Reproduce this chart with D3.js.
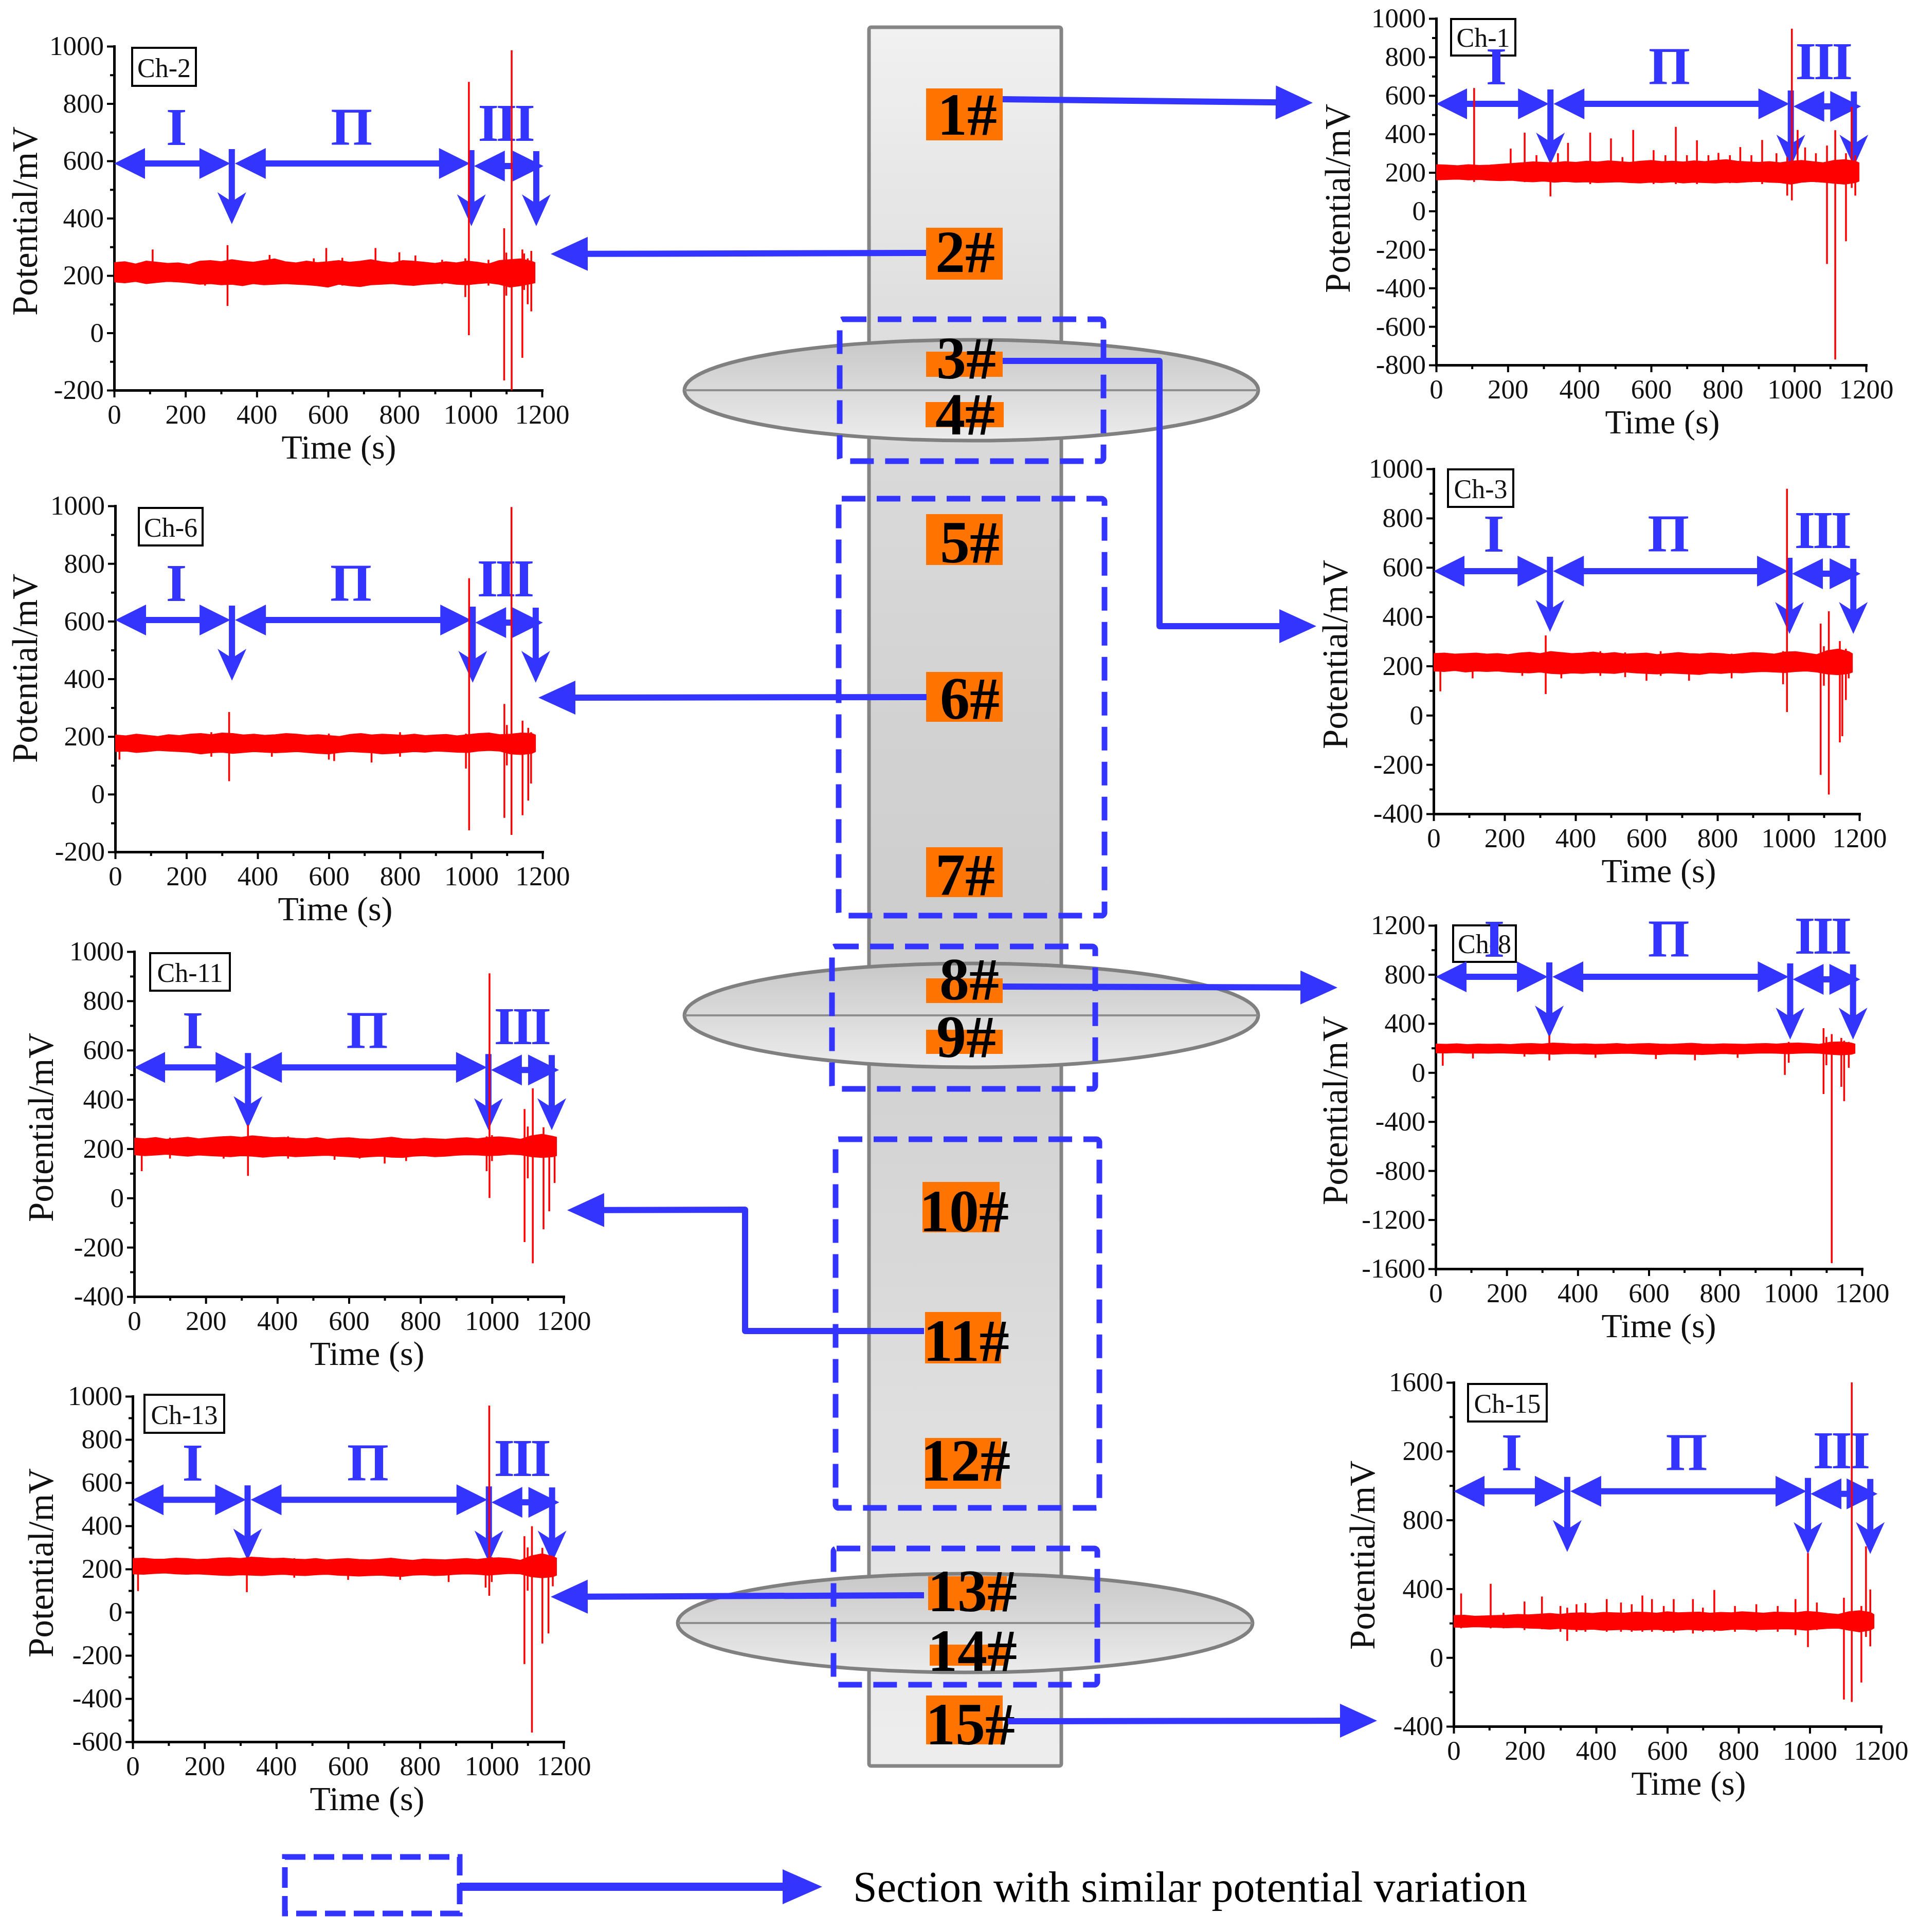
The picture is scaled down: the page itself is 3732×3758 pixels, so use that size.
<!DOCTYPE html>
<html><head><meta charset="utf-8">
<script src="https://cdn.jsdelivr.net/npm/d3@7"></script>
<style>body{margin:0;background:#fff} svg{display:block}</style>
</head><body>
<svg id="c" width="3732" height="3758"></svg>
<script>
// ---------------- DATA ----------------
const bandTime = [0,30,60,90,120,150,180,210,240,270,300,330,360,390,420,450,480,510,540,570,600,630,660,690,720,750,780,810,840,870,900,930,960,990,1020,1050,1080,1110,1140,1170,1180];
const xTicks = [0,200,400,600,800,1000,1200];
const xTickLabels = ["0","200","400","600","800","1000","1200"];
const xMinorTicks = [100,300,500,700,900,1100];

const ch2Hi = [245,248,240,250,246,242,244,238,250,252,248,255,250,246,252,258,248,244,250,245,248,252,246,250,255,248,244,252,250,246,242,248,244,250,246,240,252,255,258,250,245];
const ch2Lo = [178,175,180,172,176,180,178,175,170,172,168,170,165,172,168,170,172,170,168,165,160,170,165,162,168,170,172,168,166,170,172,175,170,168,172,175,170,160,165,172,175];
const ch2Spikes = [[108,291,200],[255,250,165],[318,306,94],[436,272,190],[560,260,180],[595,296,160],[640,262,165],[733,296,185],[800,281,175],[845,270,170],[920,255,170],[985,260,125],[995,876,-8],[1050,255,165],[1094,365,-166],[1100,280,130],[1115,986,-200],[1145,291,-87],[1150,277,150],[1160,260,100],[1170,286,75]];
const ch2YTicks = [-200,0,200,400,600,800,1000];
const ch2YLabels = ["-200","0","200","400","600","800","1000"];

const ch6Hi = [205,202,208,204,200,206,203,208,210,206,212,210,205,208,204,206,210,208,204,206,203,200,207,210,205,208,206,204,208,203,205,207,202,206,210,212,206,208,212,210,205];
const ch6Lo = [148,150,145,148,152,150,148,146,140,144,146,142,145,148,146,144,146,148,145,142,140,145,148,146,144,140,142,145,148,146,150,148,146,145,150,152,150,140,138,142,148];
const ch6Spikes = [[12,200,120],[270,215,130],[320,285,45],[440,205,130],[600,210,120],[615,200,115],[720,205,110],[800,215,130],[985,210,89],[994,749,-125],[1093,313,-82],[1100,240,100],[1113,996,-141],[1144,255,-73],[1160,230,-22],[1168,215,37]];
const ch6YTicks = [-200,0,200,400,600,800,1000];
const ch6YLabels = ["-200","0","200","400","600","800","1000"];

const ch11Hi = [243,240,245,238,242,246,240,244,248,250,246,252,248,244,246,242,240,245,238,242,244,240,238,242,246,240,238,242,240,238,242,244,240,246,248,244,238,252,258,250,246];
const ch11Lo = [176,172,175,178,174,170,175,172,170,168,172,170,166,170,172,168,170,172,174,170,168,165,168,170,166,165,170,172,168,170,174,176,175,172,174,178,176,168,165,168,172];
const ch11Spikes = [[21,240,109],[100,245,160],[250,250,160],[318,297,90],[430,250,160],[560,240,155],[630,235,160],[700,240,140],[760,235,150],[985,250,109],[993,912,0],[1000,255,150],[1091,361,-179],[1100,290,80],[1114,445,-265],[1144,287,-127],[1160,250,-54],[1175,245,61]];
const ch11YTicks = [-400,-200,0,200,400,600,800,1000];
const ch11YLabels = ["-400","-200","0","200","400","600","800","1000"];

const ch13Hi = [248,250,245,246,250,248,244,246,250,252,248,255,252,248,250,246,244,248,242,246,248,244,242,246,250,244,240,246,244,242,246,248,244,250,252,248,240,260,270,258,250];
const ch13Lo = [178,176,180,182,178,176,178,175,172,170,174,172,170,174,176,172,170,174,176,172,170,168,170,172,168,166,172,174,170,172,176,178,176,172,176,180,178,165,160,165,172];
const ch13Spikes = [[15,245,98],[318,255,93],[450,250,160],[600,245,150],[745,240,150],[880,240,140],[983,250,114],[993,957,76],[1000,255,140],[1091,352,-240],[1100,300,100],[1112,398,-557],[1141,298,-145],[1158,260,-98],[1170,255,120]];
const ch13YTicks = [-600,-400,-200,0,200,400,600,800,1000];
const ch13YLabels = ["-600","-400","-200","0","200","400","600","800","1000"];

const ch1Hi = [240,238,235,240,236,238,242,246,250,255,252,250,256,252,258,254,260,256,252,258,262,256,258,254,260,256,262,266,258,255,252,256,250,258,262,256,250,262,266,258,250];
const ch1Lo = [162,164,166,162,164,160,158,160,155,152,156,150,154,150,152,148,150,152,148,146,150,148,152,146,150,148,146,150,148,152,154,150,148,140,150,154,150,145,140,148,155];
const ch1Spikes = [[106,639,151],[208,324,170],[247,407,150],[280,290,160],[319,260,76],[340,300,150],[368,354,155],[430,407,140],[488,377,150],[520,280,150],[550,421,160],[607,316,140],[640,290,150],[669,437,140],[700,290,150],[728,367,140],[760,290,150],[788,302,150],[820,290,145],[849,332,150],[880,290,150],[910,369,140],[950,300,150],[980,280,80],[993,947,55],[1009,421,160],[1030,330,150],[1060,300,150],[1091,340,-275],[1114,420,-771],[1144,300,-157],[1160,541,120],[1170,290,80]];
const ch1YTicks = [-800,-600,-400,-200,0,200,400,600,800,1000];
const ch1YLabels = ["-800","-600","-400","-200","0","200","400","600","800","1000"];

const ch3Hi = [250,252,248,250,252,248,250,246,252,255,250,258,254,250,252,256,250,254,248,250,252,246,250,254,250,248,252,250,246,250,254,252,248,256,258,252,246,262,268,258,250];
const ch3Lo = [180,178,182,176,180,178,180,176,174,172,176,170,168,172,170,174,172,170,176,172,170,168,172,170,168,166,172,170,174,172,176,178,176,174,178,180,176,168,165,170,175];
const ch3Spikes = [[19,240,97],[110,240,150],[250,255,160],[316,324,86],[360,250,150],[470,260,160],[540,255,155],[600,250,140],[640,260,160],[720,250,140],[840,250,150],[985,260,126],[996,919,13],[1091,372,-242],[1100,280,120],[1114,422,-322],[1145,301,-110],[1152,260,-85],[1162,270,62],[1170,250,150]];
const ch3YTicks = [-400,-200,0,200,400,600,800,1000];
const ch3YLabels = ["-400","-200","0","200","400","600","800","1000"];

const ch8Hi = [232,230,234,228,232,230,232,228,234,236,232,240,236,232,234,230,232,236,230,234,236,232,230,234,238,232,230,234,232,230,234,236,232,238,240,236,230,246,250,240,232];
const ch8Lo = [162,160,164,158,160,158,162,158,155,152,156,150,154,156,152,150,154,156,158,154,150,148,154,152,150,148,152,156,152,154,158,160,158,154,158,162,158,150,145,150,158];
const ch8Spikes = [[20,230,56],[105,225,115],[250,235,130],[320,303,99],[450,230,120],[620,235,110],[730,230,100],[850,228,120],[983,240,-19],[994,250,80],[1092,362,-175],[1100,290,60],[1115,313,-1554],[1142,282,-116],[1150,260,-233],[1163,250,39]];
const ch8YTicks = [-1600,-1200,-800,-400,0,400,800,1200];
const ch8YLabels = ["-1600","-1200","-800","-400","0","400","800","1200"];

const ch15Hi = [244,246,240,242,244,246,250,248,252,256,250,258,260,256,262,260,258,264,262,258,266,260,262,264,258,262,260,266,262,258,264,262,260,268,264,256,250,266,272,262,250];
const ch15Lo = [178,176,180,178,176,174,176,172,170,166,170,164,162,166,160,162,164,160,162,164,158,160,164,160,162,158,164,166,162,164,166,168,166,160,166,170,172,160,150,160,172];
const ch15Spikes = [[21,373,170],[104,429,170],[140,260,170],[199,326,160],[248,355,165],[300,300,150],[319,290,97],[345,310,150],[370,317,150],[430,340,150],[470,320,150],[500,310,150],[530,361,150],[557,340,150],[590,300,150],[618,340,145],[672,340,140],[700,290,150],[732,393,150],[790,300,150],[850,310,150],[910,300,150],[960,340,130],[995,608,61],[1020,320,160],[1096,348,-244],[1118,1600,-258],[1145,300,-145],[1158,647,120],[1170,396,65]];
const ch15YTicks = [-400,0,400,800,1200,1600];
const ch15YLabels = ["-400","0","400","800","200","1600"];

const stageNames = ["I","Π","III"];
const nodeNames = ["1#","2#","3#","4#","5#","6#","7#","8#","9#","10#","11#","12#","13#","14#","15#"];
const legendText = "Section with similar potential variation";

// -------------- LAYOUT (positions / styles) --------------
const BLUE = "#3434ff", RED = "#ff0000", ORANGE = "#ff7300";
const SERIF = "'Liberation Serif','Times New Roman',serif";

const panels = [
 {name:"Ch-2", hi:ch2Hi, lo:ch2Lo, spikes:ch2Spikes, yt:ch2YTicks, yl:ch2YLabels, dom:[-200,1000],
  L:{left:222,right:1054,top:90,bottom:759, box:[257,93,124,74], ytx:72, yty:430, xtx:659},
  A:{arrow:591, div:[330,1002,1184], roman:656, roman3:670, rt:[175,666,1097]}},
 {name:"Ch-6", hi:ch6Hi, lo:ch6Lo, spikes:ch6Spikes, yt:ch6YTicks, yl:ch6YLabels, dom:[-200,1000],
  L:{left:224,right:1055,top:984,bottom:1657, box:[270,988,124,73], ytx:72, yty:1300, xtx:652},
  A:{arrow:604, div:[328,1004,1181], roman:670, roman3:686, rt:[172,662,1093]}},
 {name:"Ch-11", hi:ch11Hi, lo:ch11Lo, spikes:ch11Spikes, yt:ch11YTicks, yl:ch11YLabels, dom:[-400,1000],
  L:{left:261,right:1096,top:1851,bottom:2522, box:[292,1854,155,73], ytx:103, yty:2193, xtx:714},
  A:{arrow:530, div:[318,990,1167], roman:608, roman3:624, rt:[164,651,1082]}},
 {name:"Ch-13", hi:ch13Hi, lo:ch13Lo, spikes:ch13Spikes, yt:ch13YTicks, yl:ch13YLabels, dom:[-600,1000],
  L:{left:258,right:1096,top:2716,bottom:3388, box:[281,2713,155,74], ytx:103, yty:3040, xtx:714},
  A:{arrow:521, div:[320,992,1168], roman:610, roman3:631, rt:[167,655,1082]}},
 {name:"Ch-1", hi:ch1Hi, lo:ch1Lo, spikes:ch1Spikes, yt:ch1YTicks, yl:ch1YLabels, dom:[-800,1000],
  L:{left:2793,right:3629,top:36,bottom:710, box:[2822,37,125,71], ytx:2625, yty:386, xtx:3233},
  A:{arrow:557, div:[319,990,1166], roman:658, roman3:685, rt:[168,651,1079]}},
 {name:"Ch-3", hi:ch3Hi, lo:ch3Lo, spikes:ch3Spikes, yt:ch3YTicks, yl:ch3YLabels, dom:[-400,1000],
  L:{left:2788,right:3616,top:912,bottom:1583, box:[2816,913,127,73], ytx:2620, yty:1273, xtx:3226},
  A:{arrow:585, div:[328,1003,1183], roman:664, roman3:679, rt:[170,662,1094]}},
 {name:"Ch-8", hi:ch8Hi, lo:ch8Lo, spikes:ch8Spikes, yt:ch8YTicks, yl:ch8YLabels, dom:[-1600,1200],
  L:{left:2792,right:3621,top:1800,bottom:2468, box:[2826,1800,122,71], ytx:2620, yty:2160, xtx:3226},
  A:{arrow:781, div:[320,998,1175], roman:944, roman3:970, rt:[165,656,1087]}},
 {name:"Ch-15", hi:ch15Hi, lo:ch15Lo, spikes:ch15Spikes, yt:ch15YTicks, yl:ch15YLabels, dom:[-400,1600],
  L:{left:2827,right:3658,top:2689,bottom:3358, box:[2855,2692,153,73], ytx:2673, yty:3025, xtx:3284},
  A:{arrow:967, div:[319,995,1170], roman:1089, roman3:1101, rt:[163,654,1086]}}
];

const nodeLayout = [
 {r:[1801,172,149,101], tx:1881, ty:262},
 {r:[1801,443,149,101], tx:1877, ty:529},
 {r:[1801,684,149,49],  tx:1879, ty:736},
 {r:[1800,782,152,49],  tx:1877, ty:845},
 {r:[1801,1000,149,99], tx:1886, ty:1094},
 {r:[1801,1307,149,97], tx:1886, ty:1398},
 {r:[1801,1648,149,97], tx:1877, ty:1741},
 {r:[1801,1903,149,48], tx:1885, ty:1944},
 {r:[1801,2003,149,47], tx:1879, ty:2056},
 {r:[1794,2299,150,98], tx:1875, ty:2395},
 {r:[1799,2552,148,100],tx:1879, ty:2647},
 {r:[1799,2797,148,99], tx:1878, ty:2880},
 {r:[1805,3066,153,66], tx:1891, ty:3134},
 {r:[1808,3199,150,41], tx:1891, ty:3250},
 {r:[1801,3298,149,95], tx:1887, ty:3393}
];
const dashBoxes = [[1633,621,513,276],[1631,970,517,811],[1618,1841,512,277],[1625,2216,513,717],[1621,3012,513,265]];
const disks = [[1889,759,558,98],[1889,1975,558,101],[1877,3157,559,96]];
const links = [
 [[1950,193],[2553,200]],
 [[1801,492],[1071,494]],
 [[1950,702],[2255,702],[2255,1218],[2560,1218]],
 [[1802,1356],[1047,1357]],
 [[1950,1919],[2601,1921]],
 [[1797,2589],[1449,2589],[1449,2353],[1103,2354]],
 [[1797,3103],[1071,3106]],
 [[1960,3348],[2678,3347]]
];

// ---------------- DRAW ----------------
const svg = d3.select("#c");
const defs = svg.append("defs");
function grad(id, stops){
  const g = defs.append("linearGradient").attr("id",id).attr("x1",0).attr("y1",0).attr("x2",0).attr("y2",1);
  stops.forEach(s=>g.append("stop").attr("offset",s[0]).attr("stop-color",s[1]));
}
grad("towerG",[[0,"#f1f1f1"],[0.19,"#dcdcdc"],[0.52,"#cdcdcd"],[0.86,"#e2e2e2"],[1,"#eeeeee"]]);
grad("diskG",[[0,"#c8c8c8"],[1,"#ececec"]]);

svg.append("rect").attr("width",3732).attr("height",3758).attr("fill","#fff");

// ---- center column ----
const center = svg.append("g");
center.append("rect").attr("x",1690).attr("y",53).attr("width",374).attr("height",3382).attr("rx",4)
  .attr("fill","url(#towerG)").attr("stroke","#858585").attr("stroke-width",7);
disks.forEach(([cx,cy,rx,ry])=>{
  center.append("ellipse").attr("cx",cx).attr("cy",cy).attr("rx",rx).attr("ry",ry)
    .attr("fill","url(#diskG)").attr("stroke","#808080").attr("stroke-width",7);
  center.append("line").attr("x1",cx-rx).attr("x2",cx+rx).attr("y1",cy).attr("y2",cy)
    .attr("stroke","#8e8e8e").attr("stroke-width",4);
});
nodeNames.forEach((n,i)=>{
  const L = nodeLayout[i];
  center.append("rect").attr("x",L.r[0]).attr("y",L.r[1]).attr("width",L.r[2]).attr("height",L.r[3]).attr("fill",ORANGE);
  center.append("text").attr("x",L.tx).attr("y",L.ty).attr("text-anchor","middle")
    .attr("font-family",SERIF).attr("font-weight","bold").attr("font-size",116).attr("fill","#000").text(n);
});
dashBoxes.forEach(([x,y,w,h])=>{
  center.append("rect").attr("x",x).attr("y",y).attr("width",w).attr("height",h).attr("rx",6)
    .attr("fill","none").attr("stroke",BLUE).attr("stroke-width",11).attr("stroke-dasharray","46 22");
});
function arrowLink(g, pts, len, half, sw){
  const n = pts.length, tip = pts[n-1], prev = pts[n-2];
  const dx = tip[0]-prev[0], dy = tip[1]-prev[1], dd = Math.hypot(dx,dy), ux = dx/dd, uy = dy/dd;
  const base = [tip[0]-ux*len, tip[1]-uy*len];
  const linePts = pts.slice(0,n-1).concat([[tip[0]-ux*(len-10), tip[1]-uy*(len-10)]]);
  g.append("path").attr("d", d3.line()(linePts)).attr("fill","none").attr("stroke",BLUE)
    .attr("stroke-width",sw).attr("stroke-linejoin","round");
  const px = -uy*half, py = ux*half;
  g.append("path").attr("d", `M${tip[0]},${tip[1]}L${base[0]+px},${base[1]+py}L${base[0]-px},${base[1]-py}Z`).attr("fill",BLUE);
}
links.forEach(p=>arrowLink(center,p,72,33,12));

// legend
const leg = svg.append("g");
leg.append("rect").attr("x",554).attr("y",3612).attr("width",340).attr("height",110)
  .attr("fill","none").attr("stroke",BLUE).attr("stroke-width",11).attr("stroke-dasharray","40 16");
arrowLink(leg, [[894,3670],[1599,3670]], 77, 34, 16);
leg.append("text").attr("x",1659).attr("y",3699).attr("font-family",SERIF).attr("font-size",84)
  .attr("fill","#000").text(legendText);

// ---- panels ----
function hArrow(g, x1, x2, yy){
  const hl = 60, hh = 30;
  g.append("line").attr("x1",x1+hl-8).attr("x2",x2-hl+8).attr("y1",yy).attr("y2",yy)
    .attr("stroke",BLUE).attr("stroke-width",12);
  g.append("path").attr("d",`M${x1},${yy}L${x1+hl},${yy-hh}L${x1+hl},${yy+hh}Z`).attr("fill",BLUE);
  g.append("path").attr("d",`M${x2},${yy}L${x2-hl},${yy-hh}L${x2-hl},${yy+hh}Z`).attr("fill",BLUE);
}
function vArrow(g, xx, y1, tip){
  g.append("line").attr("x1",xx).attr("x2",xx).attr("y1",y1).attr("y2",tip-30)
    .attr("stroke",BLUE).attr("stroke-width",12);
  g.append("path").attr("d",`M${xx},${tip}L${xx-28},${tip-62}L${xx},${tip-44}L${xx+28},${tip-62}Z`).attr("fill",BLUE);
}

panels.forEach((P,pi)=>{
  const L = P.L, A = P.A;
  const g = svg.append("g");
  const x = d3.scaleLinear().domain([0,1200]).range([L.left,L.right]);
  const y = d3.scaleLinear().domain(P.dom).range([L.bottom,L.top]);

  defs.append("clipPath").attr("id","clip"+pi).append("rect")
    .attr("x",L.left).attr("y",L.top-4).attr("width",L.right-L.left+10).attr("height",L.bottom-L.top+4);

  // axes
  const yMinor = d3.pairs(P.yt).map(([a,b])=>(a+b)/2);
  const ax = g.append("g").attr("transform",`translate(0,${L.bottom})`)
    .call(d3.axisBottom(x).tickValues(xTicks).tickFormat((d,i)=>xTickLabels[i]).tickSize(14).tickSizeOuter(0).tickPadding(13));
  const axm = g.append("g").attr("transform",`translate(0,${L.bottom})`)
    .call(d3.axisBottom(x).tickValues(xMinorTicks).tickFormat("").tickSize(8).tickSizeOuter(0));
  const ay = g.append("g").attr("transform",`translate(${L.left},0)`)
    .call(d3.axisLeft(y).tickValues(P.yt).tickFormat((d,i)=>P.yl[i]).tickSize(14).tickSizeOuter(0).tickPadding(6));
  const aym = g.append("g").attr("transform",`translate(${L.left},0)`)
    .call(d3.axisLeft(y).tickValues(yMinor).tickFormat("").tickSize(8).tickSizeOuter(0));
  [axm,aym].forEach(a=>a.select(".domain").remove());
  [ax,ay,axm,aym].forEach(a=>{
    a.selectAll(".domain").attr("stroke","#000").attr("stroke-width",5).attr("stroke-linecap","square");
    a.selectAll(".tick line").attr("stroke","#000").attr("stroke-width",4);
    a.selectAll(".tick text").attr("font-family",SERIF).attr("font-size",53).attr("fill","#111");
  });

  // titles
  g.append("text").attr("x",L.xtx).attr("y",L.bottom+133).attr("text-anchor","middle")
    .attr("font-family",SERIF).attr("font-size",66).attr("fill","#111").text("Time (s)");
  g.append("text").attr("transform",`translate(${L.ytx},${L.yty}) rotate(-90)`).attr("text-anchor","middle")
    .attr("font-family",SERIF).attr("font-size",69).attr("fill","#111").text("Potential/mV");

  // channel box
  g.append("rect").attr("x",L.box[0]).attr("y",L.box[1]).attr("width",L.box[2]).attr("height",L.box[3])
    .attr("fill","#fff").attr("stroke","#000").attr("stroke-width",4);
  g.append("text").attr("x",L.box[0]+L.box[2]/2).attr("y",L.box[1]+L.box[3]-17).attr("text-anchor","middle")
    .attr("font-family",SERIF).attr("font-size",52).attr("fill","#111").text(P.name);

  // stage annotations
  const yA = y(A.arrow);
  const [e1,e2,e3] = A.div.map(x);
  hArrow(g, x(0), e1-3, yA);
  hArrow(g, e1+6, e2-3, yA);
  hArrow(g, e2+5, e3+14, yA+5);
  vArrow(g, e1, yA-28, yA+118);
  vArrow(g, e2, yA-26, yA+122);
  vArrow(g, e3, yA-24, yA+122);
  stageNames.forEach((s,i)=>{
    g.append("text").attr("x",x(A.rt[i])).attr("y", i<2 ? y(A.roman) : y(A.roman3))
      .attr("text-anchor","middle").attr("font-family",SERIF).attr("font-weight","bold")
      .attr("font-size",104).attr("letter-spacing", i===2 ? -5 : 0).attr("fill",BLUE).text(s);
  });

  // signal
  const dg = g.append("g").attr("clip-path",`url(#clip${pi})`);
  const rows = bandTime.map((t,i)=>({t, hi:P.hi[i], lo:P.lo[i]}));
  dg.append("path").datum(rows)
    .attr("d", d3.area().x(d=>x(d.t)).y0(d=>y(d.lo)).y1(d=>y(d.hi)))
    .attr("fill",RED).attr("stroke",RED).attr("stroke-width",2);
  dg.selectAll("line.sp").data(P.spikes).enter().append("line").attr("class","sp")
    .attr("x1",d=>x(d[0])).attr("x2",d=>x(d[0])).attr("y1",d=>y(d[1])).attr("y2",d=>y(d[2]))
    .attr("stroke",RED).attr("stroke-width",3.5);
});
</script>
</body></html>
